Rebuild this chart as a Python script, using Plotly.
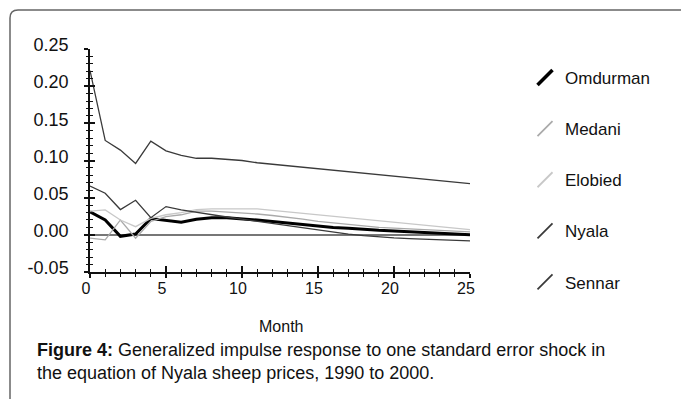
import plotly.graph_objects as go

months = list(range(26))
omdurman = [0.031, 0.020, -0.002, 0.001, 0.022, 0.020, 0.017, 0.021, 0.023, 0.023, 0.022, 0.020,
            0.018, 0.016, 0.014, 0.012, 0.010, 0.009, 0.007, 0.006, 0.005, 0.004, 0.003, 0.002, 0.001, 0.000]
medani = [-0.0045, -0.0067, 0.020, -0.0045, 0.018, 0.0245, 0.027, 0.032, 0.032, 0.031, 0.030, 0.028,
          0.026, 0.024, 0.021, 0.018, 0.016, 0.014, 0.012, 0.010, 0.009, 0.008, 0.007, 0.006, 0.005, 0.004]
elobied = [0.032, 0.0335, 0.020, 0.011, 0.022, 0.027, 0.030, 0.034, 0.035, 0.035, 0.035, 0.035,
           0.033, 0.031, 0.029, 0.027, 0.025, 0.023, 0.021, 0.019, 0.017, 0.015, 0.013, 0.011, 0.009, 0.007]
nyala = [0.221, 0.127, 0.114, 0.096, 0.126, 0.113, 0.107, 0.103, 0.103, 0.102, 0.100, 0.097,
         0.095, 0.093, 0.091, 0.089, 0.087, 0.085, 0.083, 0.081, 0.079, 0.077, 0.075, 0.073, 0.071, 0.069]
sennar = [0.0657, 0.056, 0.034, 0.0465, 0.023, 0.038, 0.0335, 0.030, 0.027, 0.024, 0.021, 0.018,
          0.015, 0.0125, 0.010, 0.007, 0.003, 0.001, -0.001, -0.003, -0.004, -0.005, -0.006, -0.007, -0.008, -0.008]

series_names = ["Omdurman", "Medani", "Elobied", "Nyala", "Sennar"]
series_values = [omdurman, medani, elobied, nyala, sennar]
colors = ["#000000", "#aaaaaa", "#c8c8c8", "#3a3a3a", "#3a3a3a"]
widths = [3, 1.3, 1.3, 1.3, 1.3]

x_ticks = [0, 5, 10, 15, 20, 25]
y_ticks = [-0.05, 0.00, 0.05, 0.10, 0.15, 0.20, 0.25]

caption_bold = "Figure 4:"
caption_line1 = " Generalized impulse response to one standard error shock in"
caption_line2 = "the equation of Nyala sheep prices, 1990 to 2000."

FONT = "Liberation Sans, Arial, sans-serif"
L, R, T, B = 90, 211, 49, 127
W, H = 681, 399
PW, PH = W - L - R, H - T - B

def px_x(p):
    return (p - L) / PW

def px_y(p):
    return (H - B - p) / PH

fig = go.Figure()

for name, vals, c, w in zip(series_names, series_values, colors, widths):
    fig.add_trace(go.Scatter(x=months, y=vals, mode="lines", name=name,
                             line=dict(color=c, width=w), showlegend=False,
                             hoverinfo="skip"))

for i, (name, c, w) in enumerate(zip(series_names, colors, widths)):
    fig.add_trace(go.Scatter(x=[None], y=[None], mode="markers", name=name,
                             legendgroup=name,
                             marker=dict(symbol="line-ne", size=15,
                                         line=dict(color=c, width=w + 0.5))))

# overlay axes used only to draw the inner half of the crossing ticks
fig.add_trace(go.Scatter(x=[None], y=[None], xaxis="x2", yaxis="y2",
                         showlegend=False, hoverinfo="skip"))

fig.update_layout(
    width=W, height=H,
    margin=dict(l=L, r=R, t=T, b=B),
    plot_bgcolor="white", paper_bgcolor="white",
    font=dict(family=FONT, color="#111111"),
    xaxis=dict(range=[0, 25], tickvals=x_ticks, ticktext=[str(v) for v in x_ticks],
               showgrid=False, zeroline=False, showline=True, linecolor="#111",
               linewidth=1.5, ticks="outside", ticklen=4, tickwidth=1.5,
               tickcolor="#111", tickfont=dict(size=16, family=FONT),
               ticklabelshift=-4, ticklabelstandoff=-3,
               minor=dict(dtick=1, ticks="outside", ticklen=3, tickwidth=1,
                          tickcolor="#111")),
    yaxis=dict(range=[-0.05, 0.25], tickvals=y_ticks,
               ticktext=[f"{v:.2f}" for v in y_ticks],
               showgrid=False, zeroline=True, zerolinecolor="#777777",
               zerolinewidth=1.5, showline=True, linecolor="#111",
               linewidth=1.5, ticks="outside", ticklen=4, tickwidth=1.5,
               tickcolor="#111", tickfont=dict(size=18, family=FONT),
               ticklabelshift=-4, ticklabelstandoff=12,
               minor=dict(dtick=0.01, ticks="outside", ticklen=2, tickwidth=1,
                          tickcolor="#111")),
    xaxis2=dict(range=[0, 25], overlaying="x", anchor="y2", side="bottom",
                tickvals=x_ticks, showticklabels=False, showgrid=False,
                zeroline=False, showline=False, ticks="inside", ticklen=6,
                tickwidth=1.5, tickcolor="#111",
                minor=dict(dtick=1, ticks="inside", ticklen=3, tickwidth=1,
                           tickcolor="#111")),
    yaxis2=dict(range=[-0.05, 0.25], overlaying="y", anchor="x2", side="left",
                tickvals=y_ticks, showticklabels=False, showgrid=False,
                zeroline=False, showline=False, ticks="inside", ticklen=5,
                tickwidth=1.5, tickcolor="#111",
                minor=dict(dtick=0.01, ticks="inside", ticklen=3, tickwidth=1,
                           tickcolor="#111")),
    legend=dict(x=px_x(525), y=px_y(60), xanchor="left", yanchor="top",
                font=dict(size=17, family=FONT, color="#111"),
                itemwidth=30, tracegroupgap=26, bgcolor="rgba(0,0,0,0)",
                maxheight=600),
    showlegend=True,
)

r = 8
path = (f"M {px_x(10)},{px_y(420)} L {px_x(10)},{px_y(10 + r)} "
        f"Q {px_x(10)},{px_y(10)} {px_x(10 + r)},{px_y(10)} L {px_x(700)},{px_y(10)}")
fig.add_shape(type="path", xref="paper", yref="paper", path=path,
              line=dict(color="#666666", width=1.5), layer="below")

fig.add_annotation(text="Month", xref="paper", yref="paper", x=px_x(281), y=px_y(326),
                   xanchor="center", yanchor="middle", showarrow=False,
                   font=dict(size=16, family=FONT, color="#111"))
fig.add_annotation(text=f"<b>{caption_bold}</b>{caption_line1}<br>{caption_line2}",
                   xref="paper", yref="paper", x=px_x(35), y=px_y(361),
                   xanchor="left", yanchor="middle", align="left", showarrow=False,
                   font=dict(size=18, family=FONT, color="#111"))

fig.write_html("out.html", config={"displayModeBar": False},
               post_script="document.body.style.margin='0';document.body.style.overflow='hidden';")
